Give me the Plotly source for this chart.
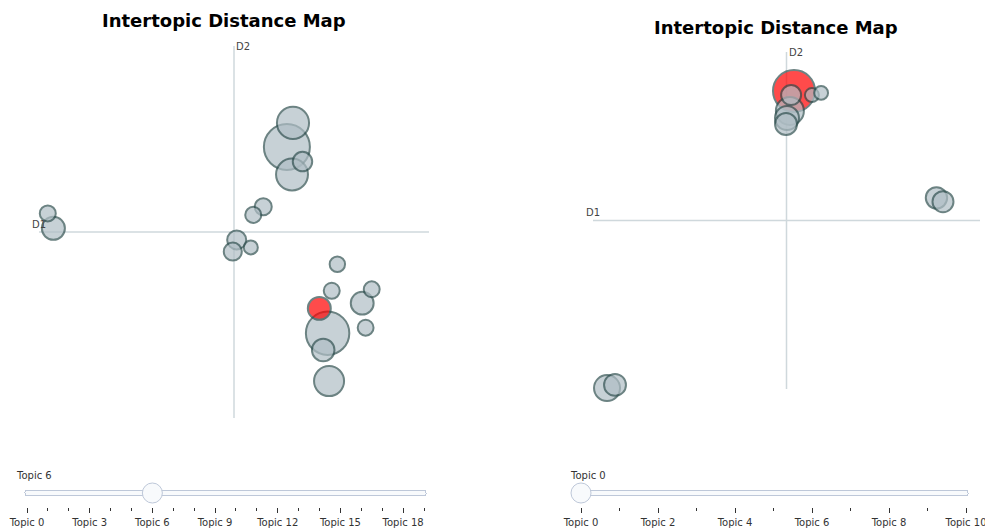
import plotly.graph_objects as go

# ---------------- data ----------------
left_topics = list(range(20))
left_x = [10.17, 11.84, 10.42, 10.38, 11.90, 0.59, 11.50, 13.26, 11.66, 10.81,
          8.11, 7.95, 9.20, 8.79, 0.36, 12.01, 13.65, 13.40, 12.24, 8.69]
left_y = [10.93, 3.42, 11.90, 9.82, 1.49, 7.65, 4.42, 4.63, 2.74, 10.34,
          7.18, 6.71, 8.52, 8.19, 8.25, 5.13, 5.19, 3.64, 6.20, 6.88]
left_size = [2116, 1884, 1031, 1018, 902, 531, 526, 522, 509, 377,
             362, 325, 289, 258, 256, 255, 253, 251, 237, 196]
left_active = 6

right_topics = list(range(11))
right_x = [8.31, 8.14, 0.58, 8.02, 7.98, 0.91, 14.20, 14.47, 8.19, 9.05, 9.43]
right_y = [12.38, 11.55, 0.04, 11.26, 11.01, 0.17, 7.94, 7.78, 12.21, 12.21, 12.30]
right_size = [2205, 980, 845, 720, 605, 600, 570, 550, 500, 245, 240]
right_active = 0

left_xrange = [0, 16]
left_yrange = [0, 15]
right_xrange = [0, 16]
right_yrange = [0, 14]

title_text = "<b>Intertopic Distance Map</b>"
FONT = "DejaVu Sans"
GREY = "#B0BEC5"
SEL = "red"

# page body has an 8px default margin; figure is offset by it
OFF = 8
W, H = 985, 528


def px(x):
    return (x - OFF) / W


def py(y):
    return 1 - (y - OFF) / H


def colors(n, active):
    return [SEL if i == active else GREY for i in range(n)]


def bubble(xs, ys, sizes, topics, active, dmax, xa, ya):
    return go.Scatter(
        x=xs, y=ys, mode="markers", xaxis=xa, yaxis=ya,
        customdata=[[t, s] for t, s in zip(topics, sizes)],
        hovertemplate="Topic %{customdata[0]}<br>Size: %{customdata[1]}<extra></extra>",
        cliponaxis=False,
        marker=dict(size=sizes, sizemode="area", sizeref=2 * max(sizes) / dmax ** 2,
                    color=colors(len(xs), active), opacity=0.7,
                    line=dict(width=2, color="DarkSlateGrey")),
        showlegend=False,
    )


fig = go.Figure()
fig.add_trace(bubble(left_x, left_y, left_size, left_topics, left_active, 46, "x", "y"))
fig.add_trace(bubble(right_x, right_y, right_size, right_topics, right_active, 42, "x2", "y2"))

fig.update_layout(
    width=W, height=H,
    margin=dict(l=0, r=0, t=0, b=0, autoexpand=False),
    paper_bgcolor="white", plot_bgcolor="white",
    font=dict(family=FONT, size=10, color="#444"),
    xaxis=dict(domain=[px(39), px(429)], range=left_xrange, visible=False),
    yaxis=dict(domain=[py(418), py(46)], range=left_yrange, visible=False),
    xaxis2=dict(domain=[px(593), px(980)], range=right_xrange, visible=False, anchor="y2"),
    yaxis2=dict(domain=[py(389), py(52)], range=right_yrange, visible=False, anchor="x2"),
    hovermode="closest",
)

# axis cross lines
for xr, yr, xa, ya in [(left_xrange, left_yrange, "x", "y"), (right_xrange, right_yrange, "x2", "y2")]:
    xm, ym = sum(xr) / 2, sum(yr) / 2
    fig.add_shape(type="line", xref=xa, yref=ya, x0=xm, x1=xm, y0=yr[0], y1=yr[1],
                  line=dict(color="#CFD8DC", width=1.5), layer="below")
    fig.add_shape(type="line", xref=xa, yref=ya, x0=xr[0], x1=xr[1], y0=ym, y1=ym,
                  line=dict(color="#CFD8DC", width=1.5), layer="below")
    fig.add_annotation(xref=xa, yref=ya, x=xr[0], y=ym, text="D1", showarrow=False,
                       yshift=8, font=dict(size=10, color="#444"))
    fig.add_annotation(xref=xa, yref=ya, x=xm, y=yr[1], text="D2", showarrow=False,
                       xshift=9, font=dict(size=10, color="#444"))

# titles
fig.add_annotation(xref="paper", yref="paper", x=px(224), y=py(20.3), text=title_text,
                   showarrow=False, xanchor="center", yanchor="middle",
                   font=dict(size=18, color="black", family=FONT))
fig.add_annotation(xref="paper", yref="paper", x=px(776), y=py(28), text=title_text,
                   showarrow=False, xanchor="center", yanchor="middle",
                   font=dict(size=18, color="black", family=FONT))


def make_slider(topics, active, trace_idx, x0, length, ytop):
    steps = [dict(label=f"Topic {t}", method="restyle",
                  args=[{"marker.color": [colors(len(topics), t)]}, [trace_idx]])
             for t in topics]
    return dict(active=active, steps=steps, x=px(x0), len=length / W, xanchor="left",
                y=py(ytop), yanchor="top", pad=dict(t=0, b=0, l=0, r=0),
                ticklen=5, minorticklen=3,
                font=dict(size=10, family=FONT, color="#333"),
                currentvalue=dict(visible=True, offset=6, xanchor="left",
                                  font=dict(size=10, family=FONT, color="#333")))


fig.update_layout(sliders=[
    make_slider(left_topics, left_active, 0, 16.7, 416.6, 466),
    make_slider(right_topics, right_active, 1, 571, 404.5, 466),
])

fig.write_html("out.html")
